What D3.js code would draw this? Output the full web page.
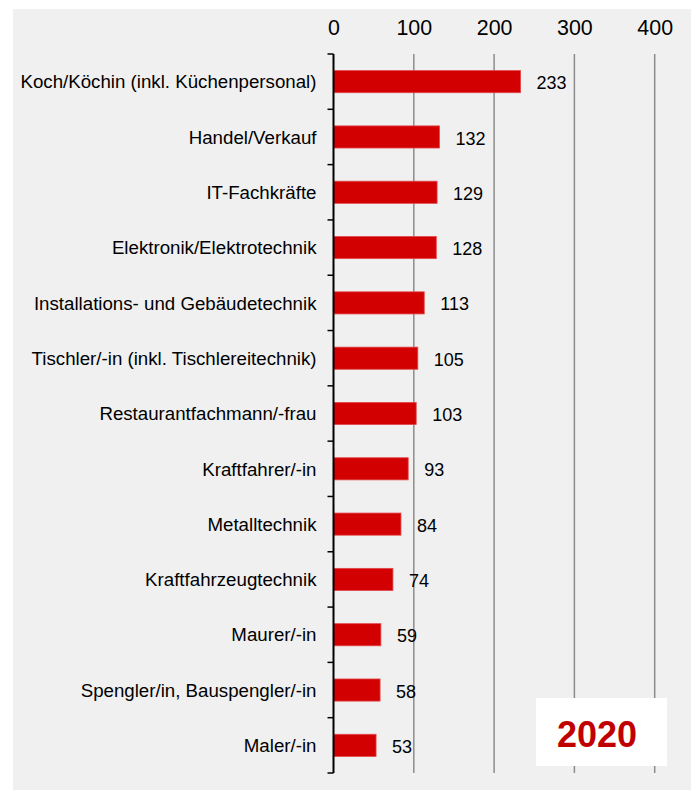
<!DOCTYPE html>
<html>
<head>
<meta charset="utf-8">
<script src="https://cdn.jsdelivr.net/npm/d3@7"></script>
<style>
  body { margin: 0; background: #fff; }
  svg { display: block; font-family: "Liberation Sans", Arial, sans-serif; }
</style>
</head>
<body>
<svg id="chart" width="694" height="790"></svg>
<script>
const berufe = ["Koch/Köchin (inkl. Küchenpersonal)", "Handel/Verkauf", "IT-Fachkräfte",
  "Elektronik/Elektrotechnik", "Installations- und Gebäudetechnik",
  "Tischler/-in (inkl. Tischlereitechnik)", "Restaurantfachmann/-frau", "Kraftfahrer/-in",
  "Metalltechnik", "Kraftfahrzeugtechnik", "Maurer/-in", "Spengler/in, Bauspengler/-in", "Maler/-in"];
const werte = [233, 132, 129, 128, 113, 105, 103, 93, 84, 74, 59, 58, 53];
const xTicks = [0, 100, 200, 300, 400];
const jahr = "2020";

const data = berufe.map((b, i) => ({beruf: b, wert: werte[i]}));

const svg = d3.select("#chart");
const m = {top: 54, left: 333.5, right: 39, bottom: 17};
const W = +svg.attr("width"), H = +svg.attr("height");

// grey panel
svg.append("rect")
    .attr("x", 13).attr("y", 9)
    .attr("width", 678).attr("height", H - 9)
    .attr("fill", "#f0f0f0");

const x = d3.scaleLinear().domain([0, 400]).range([m.left, 654.7]);
const y = d3.scaleBand().domain(berufe)
    .range([m.top, H - m.bottom])
    .paddingInner(0.6).paddingOuter(0.3);

// gridlines
svg.append("g").selectAll("line")
    .data(xTicks.filter(d => d > 0))
    .join("line")
    .attr("x1", d => x(d)).attr("x2", d => x(d))
    .attr("y1", m.top).attr("y2", H - m.bottom)
    .attr("stroke", "#8c8c8c").attr("stroke-width", 1.5);

// top axis labels
const xAxis = d3.axisTop(x).tickValues(xTicks).tickSize(0).tickPadding(19);
svg.append("g")
    .attr("transform", `translate(0,${m.top})`)
    .call(xAxis)
    .call(g => g.select(".domain").remove())
    .selectAll("text")
    .attr("font-size", 21.4).attr("fill", "#000")
    .attr("font-family", "Liberation Sans, Arial, sans-serif");

// bars
svg.append("g").selectAll("rect")
    .data(data)
    .join("rect")
    .attr("x", x(0))
    .attr("y", d => y(d.beruf))
    .attr("width", d => x(d.wert) - x(0))
    .attr("height", y.bandwidth())
    .attr("fill", "#d20000")
    .attr("stroke", "#e2474a").attr("stroke-width", 0.8);

// value labels
svg.append("g").selectAll("text")
    .data(data)
    .join("text")
    .attr("x", d => x(d.wert) + 16)
    .attr("y", d => y(d.beruf) + y.bandwidth() / 2)
    .attr("dy", "0.42em")
    .attr("font-size", 18)
    .attr("fill", "#000")
    .text(d => d.wert);

// category axis
const yAxis = d3.axisLeft(y).tickSize(0).tickPadding(17);
svg.append("g")
    .attr("transform", `translate(${m.left},0)`)
    .call(yAxis)
    .call(g => g.select(".domain").remove())
    .selectAll("text")
    .attr("font-size", 18.7).attr("fill", "#000")
    .attr("dy", "0.36em")
    .attr("font-family", "Liberation Sans, Arial, sans-serif");

// axis line with ticks between categories
const step = y.step();
const bounds = d3.range(berufe.length + 1).map(i => m.top + i * step);
svg.append("g").selectAll("line")
    .data(bounds)
    .join("line")
    .attr("x1", m.left - 6).attr("x2", m.left)
    .attr("y1", d => d).attr("y2", d => d)
    .attr("stroke", "#000").attr("stroke-width", 1.5);
svg.append("line")
    .attr("x1", m.left).attr("x2", m.left)
    .attr("y1", m.top).attr("y2", H - m.bottom)
    .attr("stroke", "#000").attr("stroke-width", 2);

// year box
svg.append("rect")
    .attr("x", 536).attr("y", 698)
    .attr("width", 131).attr("height", 68)
    .attr("fill", "#fff");
svg.append("text")
    .attr("x", 597).attr("y", 747)
    .attr("text-anchor", "middle")
    .attr("font-size", 36).attr("font-weight", "bold")
    .attr("fill", "#c00000")
    .text(jahr);
</script>
</body>
</html>
